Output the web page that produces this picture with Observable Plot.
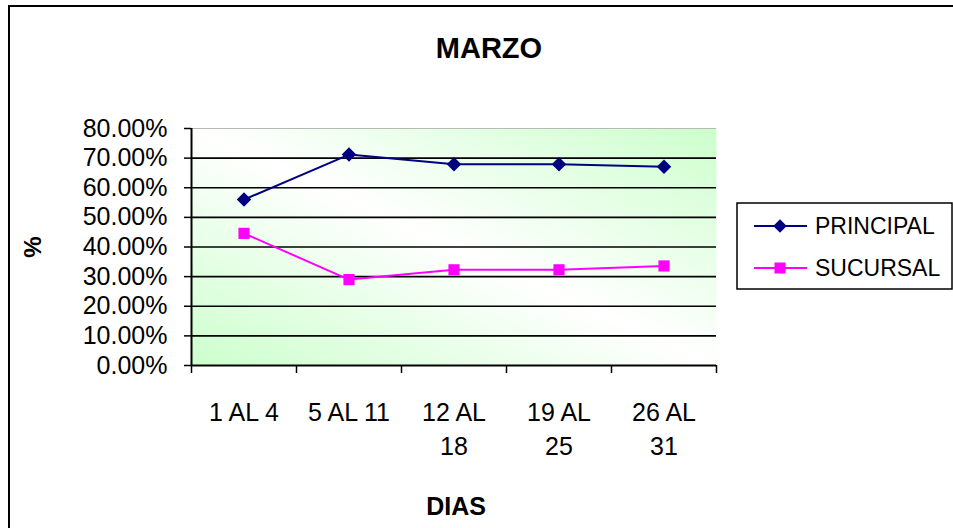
<!DOCTYPE html>
<html>
<head>
<meta charset="utf-8">
<script src="https://cdn.jsdelivr.net/npm/d3@7"></script>
<script src="https://cdn.jsdelivr.net/npm/@observablehq/plot@0.6"></script>
<style>
  html, body { margin: 0; padding: 0; background: white; }
  #chart svg { display: block; }
</style>
</head>
<body>
<div id="chart"></div>
<script>
const categories = ["1 AL 4", "5 AL 11", "12 AL\n18", "19 AL\n25", "26 AL\n31"];
const principal = [0.560, 0.712, 0.679, 0.679, 0.671];
const sucursal = [0.446, 0.290, 0.323, 0.323, 0.336];
const yTicks = [0, 0.1, 0.2, 0.3, 0.4, 0.5, 0.6, 0.7, 0.8];
const seriesNames = ["PRINCIPAL", "SUCURSAL"];
const seriesColors = ["#000080", "#ff00ff"];
const title = "MARZO";
const xTitle = "DIAS";
const yTitle = "%";

const FONT = "Arial, 'Liberation Sans', sans-serif";

const rows = [];
categories.forEach((c, i) => {
  rows.push({i, value: principal[i], series: seriesNames[0]});
  rows.push({i, value: sucursal[i], series: seriesNames[1]});
});
const idx = categories.map((d, i) => i);
const bounds = categories.map((d, i) => i - 0.5).concat([categories.length - 0.5]);

const chart = Plot.plot({
  width: 953,
  height: 528,
  marginLeft: 191,
  marginRight: 237,
  marginTop: 128,
  marginBottom: 163,
  style: {fontFamily: FONT, fontSize: "25px", color: "black", background: "white"},
  x: {type: "linear", domain: [-0.5, categories.length - 0.5]},
  y: {domain: [0, 0.8]},
  color: {domain: seriesNames, range: seriesColors},
  marks: [
    Plot.frame({fill: "url(#plotBg)", stroke: "none"}),
    Plot.ruleY(yTicks.filter(t => t > 0 && t < 0.8), {stroke: "black", strokeWidth: 1.6}),
    Plot.ruleY([0.8], {stroke: "#b8b8b8", strokeWidth: 1.2}),
    Plot.axisY({ticks: yTicks, tickFormat: d3.format(".2%"), tickSize: 7, tickPadding: 17,
      fontSize: 25, label: null, stroke: "black", strokeWidth: 1.5, strokeOpacity: 1}),
    Plot.axisX({ticks: bounds, tickFormat: () => "", tickSize: 8, label: null,
      stroke: "black", strokeWidth: 1.5, strokeOpacity: 1}),
    Plot.axisX({ticks: idx, tickFormat: i => categories[i], tickSize: 0, tickPadding: 31,
      lineHeight: 1.38, fontSize: 25, label: null}),
    Plot.ruleX([-0.5], {stroke: "black", strokeWidth: 2}),
    Plot.ruleY([0], {stroke: "black", strokeWidth: 2}),
    Plot.line(rows, {x: "i", y: "value", z: "series", stroke: "series", strokeWidth: 2}),
    Plot.dot(rows.filter(d => d.series === seriesNames[0]), {x: "i", y: "value", symbol: d3.symbolSquare, rotate: 45,
      r: 5.8, fill: seriesColors[0], stroke: "none"}),
    Plot.dot(rows.filter(d => d.series === seriesNames[1]), {x: "i", y: "value", symbol: d3.symbolSquare,
      r: 6.3, fill: seriesColors[1], stroke: "none"})
  ]
});

const svg = d3.select(chart);
const defs = svg.insert("defs", ":first-child");
const grad = defs.append("linearGradient").attr("id", "plotBg")
  .attr("x1", 0).attr("y1", 1).attr("x2", 1).attr("y2", 0);
grad.append("stop").attr("offset", "0%").attr("stop-color", "#ccffcc");
grad.append("stop").attr("offset", "50%").attr("stop-color", "#ffffff");
grad.append("stop").attr("offset", "100%").attr("stop-color", "#ccffcc");

svg.append("text").attr("x", 489).attr("y", 58).attr("text-anchor", "middle")
  .attr("font-family", FONT).attr("font-weight", "bold").attr("font-size", 29).text(title);
svg.append("text").attr("x", 456).attr("y", 515).attr("text-anchor", "middle")
  .attr("font-family", FONT).attr("font-weight", "bold").attr("font-size", 25).text(xTitle);
svg.append("text").attr("transform", "translate(41,247) rotate(-90)").attr("text-anchor", "middle")
  .attr("font-family", FONT).attr("font-weight", "bold").attr("font-size", 24).text(yTitle);

// legend
const lg = svg.append("g");
lg.append("rect").attr("x", 737).attr("y", 203).attr("width", 215).attr("height", 86)
  .attr("fill", "white").attr("stroke", "black").attr("stroke-width", 1.5);
seriesNames.forEach((name, k) => {
  const cy = 226 + k * 42;
  lg.append("line").attr("x1", 754).attr("x2", 807).attr("y1", cy).attr("y2", cy)
    .attr("stroke", seriesColors[k]).attr("stroke-width", 2);
  const sym = k === 0 ? d3.symbol(d3.symbolSquare, 90) : d3.symbol(d3.symbolSquare, 121);
  lg.append("path").attr("d", sym())
    .attr("transform", `translate(780,${cy})` + (k === 0 ? " rotate(45)" : ""))
    .attr("fill", seriesColors[k]);
  lg.append("text").attr("x", 815).attr("y", cy).attr("dy", "0.35em")
    .attr("text-anchor", "start")
    .attr("font-family", FONT).attr("font-size", 23).text(name);
});

// outer chart border
svg.append("rect").attr("x", 9).attr("y", 6).attr("width", 970).attr("height", 560)
  .attr("fill", "none").attr("stroke", "black").attr("stroke-width", 2);

document.getElementById("chart").appendChild(chart);
</script>
</body>
</html>
